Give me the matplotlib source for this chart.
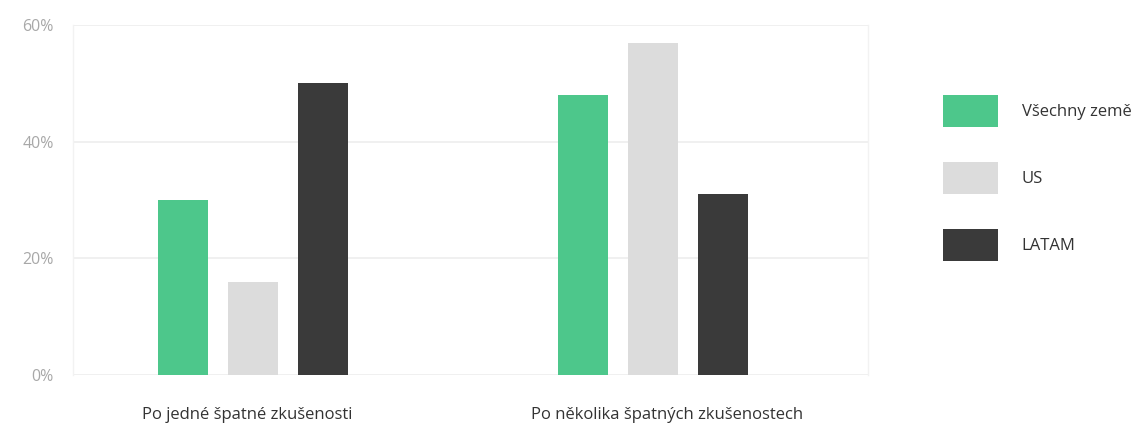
import matplotlib
matplotlib.use("Agg")
import matplotlib.pyplot as plt
import matplotlib.transforms as mtransforms
import numpy as np
from matplotlib.patches import Patch

categories = ["Po jedné špatné zkušenosti", "Po několika špatných zkušenostech"]
series_names = ["Všechny země", "US", "LATAM"]
vsechny = [30, 48]
us = [16, 57]
latam = [50, 31]
yticks = [0, 20, 40, 60]
ytick_labels = ["0%", "20%", "40%", "60%"]

colors = ["#4DC78B", "#DCDCDC", "#3A3A3A"]

plt.rcParams['font.family'] = ['Open Sans', 'DejaVu Sans']

fig = plt.figure(figsize=(11.4, 4.29), dpi=100)
ax = fig.add_axes([0.064, 0.1259, 0.697, 0.8158])

x = np.arange(len(categories))
width = 0.125
step = 0.175
for i, (vals, name) in enumerate(zip([vsechny, us, latam], series_names)):
    ax.bar(x + (i - 1) * step, vals, width=width, color=colors[i], label=name, zorder=3)

ax.set_ylim(0, 60)
ax.set_xlim(-0.45, 1.535)
ax.set_yticks(yticks)
ax.set_yticklabels(ytick_labels, color="#A8A8A8", fontsize=11.5)
ax.set_xticks(x)
ax.set_xticklabels(categories, color="#333333", fontsize=12)
ax.tick_params(axis='both', length=0)
ax.tick_params(axis='x', pad=23)
ax.tick_params(axis='y', pad=14)
ax.yaxis.grid(True, color="#EDEDED", linewidth=1.2, zorder=0)
for s in ["top", "bottom"]:
    ax.spines[s].set_visible(False)
for s in ["left", "right"]:
    ax.spines[s].set_color("#F2F2F2")
    ax.spines[s].set_linewidth(1.0)

# small horizontal offsets of category labels (as in the reference)
offsets_px = [-6, 14]
for lbl, dx in zip(ax.get_xticklabels(), offsets_px):
    lbl.set_transform(lbl.get_transform() + mtransforms.ScaledTranslation(dx / 100, 0, fig.dpi_scale_trans))

handles = [Patch(facecolor=c, label=n) for c, n in zip(colors, series_names)]
fig.legend(handles=handles, loc='upper left', bbox_to_anchor=(0.827, 0.7786),
           frameon=False, fontsize=12, handlelength=3.3, handleheight=2.58,
           labelspacing=2.1, handletextpad=1.44, borderpad=0, borderaxespad=0,
           labelcolor="#333333")

fig.savefig("out.png", dpi=100)
